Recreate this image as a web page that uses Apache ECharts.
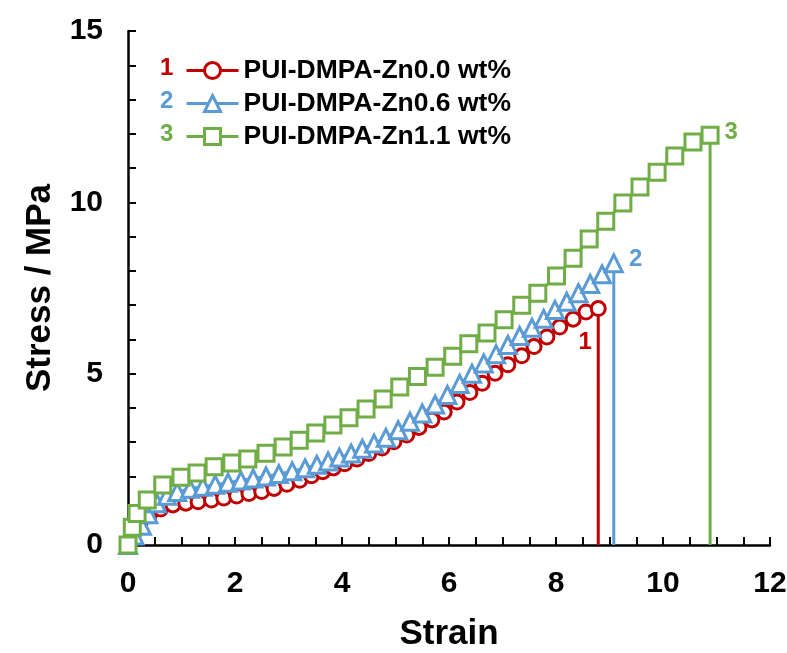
<!DOCTYPE html>
<html>
<head>
<meta charset="utf-8">
<script src="https://cdn.jsdelivr.net/npm/echarts@6/dist/echarts.min.js"></script>
<style>
  html, body { margin: 0; padding: 0; background: #fff; }
  #chart { width: 787px; height: 653px; }
</style>
</head>
<body>
<div id="chart"></div>
<script>
// Stress-strain curves for the three zinc loadings: [strain, stress / MPa]
const names = ['PUI-DMPA-Zn0.0 wt%', 'PUI-DMPA-Zn0.6 wt%', 'PUI-DMPA-Zn1.1 wt%'];
const tags = ['1', '2', '3'];
const colors = ['#C00000', '#5B9BD5', '#70AD47'];
const symbols = ['circle', 'triangle', 'rect'];

const zn00 = [
  [0, 0], [0.1, 0.32], [0.22, 0.6], [0.4, 0.88], [0.61, 1.05], [0.84, 1.17],
  [1.08, 1.22], [1.31, 1.26], [1.56, 1.31], [1.79, 1.37], [2.03, 1.43], [2.26, 1.5],
  [2.5, 1.56], [2.73, 1.65], [2.97, 1.77], [3.21, 1.89], [3.43, 2.02], [3.64, 2.14],
  [3.84, 2.25], [4.05, 2.37], [4.28, 2.51], [4.5, 2.67], [4.75, 2.83], [4.97, 3.01],
  [5.21, 3.21], [5.44, 3.43], [5.68, 3.65], [5.91, 3.88], [6.15, 4.17], [6.39, 4.45],
  [6.62, 4.72], [6.86, 5.01], [7.1, 5.26], [7.36, 5.52], [7.59, 5.79], [7.83, 6.07],
  [8.07, 6.36], [8.32, 6.59], [8.56, 6.8], [8.79, 6.9]
];
const zn06 = [
  [0, 0], [0.12, 0.28], [0.26, 0.56], [0.38, 0.9], [0.54, 1.22], [0.73, 1.44],
  [0.92, 1.55], [1.16, 1.64], [1.4, 1.7], [1.63, 1.76], [1.87, 1.82], [2.11, 1.88],
  [2.34, 1.94], [2.58, 2.0], [2.82, 2.07], [3.07, 2.15], [3.31, 2.24], [3.53, 2.34],
  [3.74, 2.44], [3.95, 2.55], [4.17, 2.67], [4.38, 2.81], [4.6, 2.96], [4.82, 3.13],
  [5.05, 3.35], [5.27, 3.6], [5.5, 3.84], [5.74, 4.1], [5.97, 4.38], [6.2, 4.7],
  [6.43, 5.0], [6.65, 5.3], [6.88, 5.57], [7.1, 5.84], [7.32, 6.1], [7.55, 6.34],
  [7.77, 6.6], [7.98, 6.86], [8.2, 7.1], [8.42, 7.35], [8.64, 7.62], [8.86, 7.9],
  [9.08, 8.22]
];
const zn11 = [
  [0, 0], [0.08, 0.52], [0.17, 0.92], [0.36, 1.31], [0.65, 1.75], [0.99, 1.98],
  [1.29, 2.1], [1.61, 2.28], [1.94, 2.39], [2.24, 2.51], [2.58, 2.68], [2.9, 2.86],
  [3.2, 3.06], [3.51, 3.27], [3.83, 3.5], [4.13, 3.71], [4.45, 3.97], [4.77, 4.26],
  [5.08, 4.61], [5.41, 4.92], [5.74, 5.19], [6.07, 5.51], [6.37, 5.87], [6.71, 6.19],
  [7.03, 6.57], [7.36, 7.0], [7.66, 7.35], [8.01, 7.85], [8.32, 8.37], [8.62, 8.93],
  [8.93, 9.45], [9.25, 9.98], [9.57, 10.45], [9.89, 10.88], [10.22, 11.35], [10.56, 11.76],
  [10.88, 11.96]
];
const curves = [zn00, zn06, zn11];

const xTicks = [0, 2, 4, 6, 8, 10, 12];
const yTicks = [0, 5, 10, 15];

// Offset of each curve's number tag from its break point
const tagOffsets = [[-13, 34], [22, -4], [21, -3]];
const symbolSizes = [14, 17, 16];

const FONT = '"Liberation Sans", Arial, sans-serif';

function buildSeries(i) {
  const pts = curves[i];
  const last = pts[pts.length - 1];
  const data = pts.map(function (p, k) {
    if (k === pts.length - 1) {
      return {
        value: p,
        label: {
          show: true, formatter: tags[i], position: 'inside',
          offset: tagOffsets[i], color: colors[i],
          fontFamily: FONT, fontWeight: 'bold', fontSize: 24
        }
      };
    }
    return p;
  });
  // sample breaks: stress falls straight to zero
  data.push({ value: [last[0], 0], symbol: 'none' });
  return {
    name: names[i],
    type: 'line',
    data: data,
    symbol: symbols[i],
    symbolSize: symbolSizes[i],
    showAllSymbol: true,
    lineStyle: { color: colors[i], width: 3 },
    itemStyle: { color: '#fff', borderColor: colors[i], borderWidth: 3 },
    emphasis: { disabled: true },
    z: 2 + i,
    animation: false
  };
}

const chart = echarts.init(document.getElementById('chart'), null, { renderer: 'canvas' });

const legendRows = [57, 90, 123];

chart.setOption({
  backgroundColor: '#fff',
  animation: false,
  grid: { left: 128, top: 31, right: 17, bottom: 108, outerBoundsMode: 'none' },
  xAxis: {
    type: 'value', min: 0, max: 12, interval: 0.5,
    name: 'Strain', nameLocation: 'middle', nameGap: 72,
    nameTextStyle: { fontFamily: FONT, fontWeight: 'bold', fontSize: 35, color: '#000' },
    axisLine: { show: true, lineStyle: { color: '#000', width: 2.5 } },
    axisTick: { show: true, inside: true, length: 8, lineStyle: { color: '#000', width: 2 } },
    axisLabel: {
      margin: 24, fontFamily: FONT, fontWeight: 'bold', fontSize: 30, color: '#000',
      formatter: function (v) { return xTicks.indexOf(v) >= 0 ? String(v) : ''; }
    },
    splitLine: { show: false }
  },
  yAxis: {
    type: 'value', min: 0, max: 15, interval: 1,
    name: 'Stress / MPa', nameLocation: 'middle', nameGap: 70,
    nameTextStyle: { fontFamily: FONT, fontWeight: 'bold', fontSize: 35, color: '#000' },
    axisLine: { show: true, lineStyle: { color: '#000', width: 2.5 } },
    axisTick: { show: true, inside: true, length: 8, lineStyle: { color: '#000', width: 2 } },
    axisLabel: {
      margin: 25, fontFamily: FONT, fontWeight: 'bold', fontSize: 30, color: '#000',
      formatter: function (v) { return yTicks.indexOf(v) >= 0 ? String(v) : ''; }
    },
    splitLine: { show: false }
  },
  legend: names.map(function (n, i) {
    return {
      data: [n], left: 185, top: legendRows[i], orient: 'vertical',
      itemWidth: 52, itemHeight: 20, padding: 0,
      selectedMode: false,
      itemStyle: { color: '#fff', borderColor: colors[i], borderWidth: 3 },
      lineStyle: { color: colors[i], width: 3 },
      textStyle: { fontFamily: FONT, fontWeight: 'bold', fontSize: 26.5, color: '#000' }
    };
  }),
  graphic: tags.map(function (t, i) {
    return {
      type: 'text', left: 160, top: legendRows[i] - 1,
      style: { text: t, fill: colors[i], font: 'bold 24px ' + FONT }
    };
  }),
  series: [0, 1, 2].map(buildSeries)
});
</script>
</body>
</html>
